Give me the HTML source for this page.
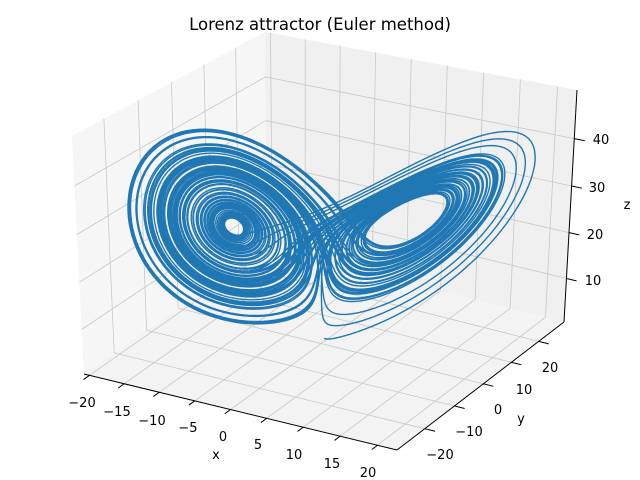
<!DOCTYPE html>
<html><head><meta charset="utf-8"><style>
html,body{margin:0;padding:0;background:#fff;}
svg{display:block;font-family:"DejaVu Sans","Liberation Sans",sans-serif;}
</style></head><body>
<svg id="s" width="640" height="480" viewBox="0 0 640 480" xmlns="http://www.w3.org/2000/svg">
<rect width="640" height="480" fill="#fff"/>
<text x="320" y="30" text-anchor="middle" font-size="16.5" fill="#000">Lorenz attractor (Euler method)</text>
<g font-size="13" fill="#000" text-anchor="middle">
<text x="82" y="407">−20</text><text x="117" y="416">−15</text><text x="152" y="425">−10</text><text x="188" y="432">−5</text><text x="223" y="441">0</text><text x="258" y="449">5</text><text x="294" y="459">10</text><text x="332" y="468">15</text><text x="368" y="477">20</text>
<text x="216" y="459">x</text>
<text x="550" y="372">20</text><text x="524" y="394">10</text><text x="498" y="414">0</text><text x="469" y="436">−10</text><text x="440" y="459">−20</text>
<text x="521" y="423">y</text>
<text x="601" y="144">40</text><text x="597" y="192">30</text><text x="595" y="239">20</text><text x="593" y="285">10</text>
<text x="627" y="209">z</text>
</g>
</svg>
<script>
(function(){
var NS="http://www.w3.org/2000/svg",svg=document.getElementById('s');
var X0=-20.8,X1=22.6,Y0=-29.1,Y1=29.5,Z0=0.36,Z1=50.1;
var e=30*Math.PI/180,a=-60*Math.PI/180,D=10;
var E=[D*Math.cos(e)*Math.cos(a),D*Math.cos(e)*Math.sin(a),D*Math.sin(e)];
var n=Math.hypot(E[0],E[1],E[2]);var f=[-E[0]/n,-E[1]/n,-E[2]/n];
var r=[f[1],-f[0],0];var rn=Math.hypot(r[0],r[1]);r=[r[0]/rn,r[1]/rn,0];
var u=[r[1]*f[2]-r[2]*f[1],r[2]*f[0]-r[0]*f[2],r[0]*f[1]-r[1]*f[0]];
function raw(x,y,z){var P=[(x-X0)/(X1-X0)-0.5,(y-Y0)/(Y1-Y0)-0.5,((z-Z0)/(Z1-Z0)-0.5)*0.85];
var d=[P[0]-E[0],P[1]-E[1],P[2]-E[2]];var dp=d[0]*f[0]+d[1]*f[1]+d[2]*f[2];
return [(d[0]*r[0]+d[1]*r[1]+d[2]*r[2])/dp,(d[0]*u[0]+d[1]*u[1]+d[2]*u[2])/dp];}
var pts=[[X0,Y0,Z0,84,374],[X1,Y0,Z0,397,450],[X1,Y1,Z0,564,322],[X1,Y1,Z1,577,90],[X0,Y0,Z1,72,136],[X0,Y1,Z1,265,32]];
function fit(k,idx){var sx=0,sy=0,sxx=0,sxy=0,m=pts.length;pts.forEach(function(p){var q=raw(p[0],p[1],p[2])[k];var t=p[idx];sx+=q;sy+=t;sxx+=q*q;sxy+=q*t;});
var A=(m*sxy-sx*sy)/(m*sxx-sx*sx);return [A,(sy-A*sx)/m];}
var FX=fit(0,3),FY=fit(1,4);
function P0(x,y,z){var q=raw(x,y,z);return [FX[0]*q[0]+FX[1],FY[0]*q[1]+FY[1]];}
// residual correction field (trilinear over box corners)
var C={};pts.forEach(function(p){var q=P0(p[0],p[1],p[2]);C[(p[0]==X1?1:0)+''+(p[1]==Y1?1:0)+''+(p[2]==Z1?1:0)]=[p[3]-q[0],p[4]-q[1]];});
function avg(ks){var s=[0,0];ks.forEach(function(k){s[0]+=C[k][0];s[1]+=C[k][1];});return [s[0]/ks.length,s[1]/ks.length];}
C['010']=avg(['000','110','011']);C['101']=avg(['100','111','001']);
function P(x,y,z){var q=P0(x,y,z);var tx=(x-X0)/(X1-X0),ty=(y-Y0)/(Y1-Y0),tz=(z-Z0)/(Z1-Z0);var dx=0,dy=0;
for(var i=0;i<2;i++)for(var j=0;j<2;j++)for(var k=0;k<2;k++){var w=(i?tx:1-tx)*(j?ty:1-ty)*(k?tz:1-tz);var c=C[''+i+j+k];dx+=w*c[0];dy+=w*c[1];}
return [q[0]+dx,q[1]+dy];}
function el(t,at){var o=document.createElementNS(NS,t);for(var k in at)o.setAttribute(k,at[k]);svg.insertBefore(o,svg.children[1]);return o;}
var layer=[];
function add(t,at){layer.push([t,at]);}
function poly(list,fill){add('polygon',{points:list.map(function(p){var q=P(p[0],p[1],p[2]);return q[0].toFixed(1)+','+q[1].toFixed(1);}).join(' '),fill:fill});}
function line(p1,p2,st,w){var a1=P.apply(null,p1),a2=P.apply(null,p2);add('line',{x1:a1[0],y1:a1[1],x2:a2[0],y2:a2[1],stroke:st,'stroke-width':w});}
poly([[X0,Y0,Z0],[X0,Y1,Z0],[X0,Y1,Z1],[X0,Y0,Z1]],'#f6f6f6');
poly([[X0,Y1,Z0],[X1,Y1,Z0],[X1,Y1,Z1],[X0,Y1,Z1]],'#f0f0f0');
poly([[X0,Y0,Z0],[X1,Y0,Z0],[X1,Y1,Z0],[X0,Y1,Z0]],'#f3f3f3');
var g='#c8c8c8';
for(var x=-20;x<=20;x+=5){line([x,Y0,Z0],[x,Y1,Z0],g,0.8);line([x,Y1,Z0],[x,Y1,Z1],g,0.8);line([x,Y0,Z0],[x,Y0-1.8,Z0],'#000',1);}
for(var y=-20;y<=20;y+=10){line([X0,y,Z0],[X1,y,Z0],g,0.8);line([X0,y,Z0],[X0,y,Z1],g,0.8);line([X1,y,Z0],[X1+1.4,y,Z0],'#000',1);}
for(var z=10;z<=40;z+=10){line([X0,Y0,z],[X0,Y1,z],g,0.8);line([X0,Y1,z],[X1,Y1,z],g,0.8);line([X1,Y1,z],[X1+1.4,Y1,z],'#000',1);}
line([X0,Y0,Z0],[X1,Y0,Z0],'#000',1);line([X1,Y0,Z0],[X1,Y1,Z0],'#000',1);line([X1,Y1,Z0],[X1,Y1,Z1],'#000',1);
// Lorenz
var s=10,rho=28,b=8/3,dt=0.001,xx=0,yy=1,zz=1.05,d=[];
var q=P(xx,yy,zz);d.push('M'+q[0].toFixed(1)+' '+q[1].toFixed(1));
for(var i=0;i<100000;i++){var dx=s*(yy-xx),dy=xx*(rho-zz)-yy,dz=xx*yy-b*zz;xx+=dx*dt;yy+=dy*dt;zz+=dz*dt;if(i%4==3){q=P(xx,yy,zz);d.push('L'+q[0].toFixed(1)+' '+q[1].toFixed(1));}}
add('path',{d:d.join(''),fill:'none',stroke:'#1f77b4','stroke-width':1.4,'stroke-linejoin':'round'});
for(var k=layer.length-1;k>=0;k--)el(layer[k][0],layer[k][1]);
})();
</script>
</body></html>
